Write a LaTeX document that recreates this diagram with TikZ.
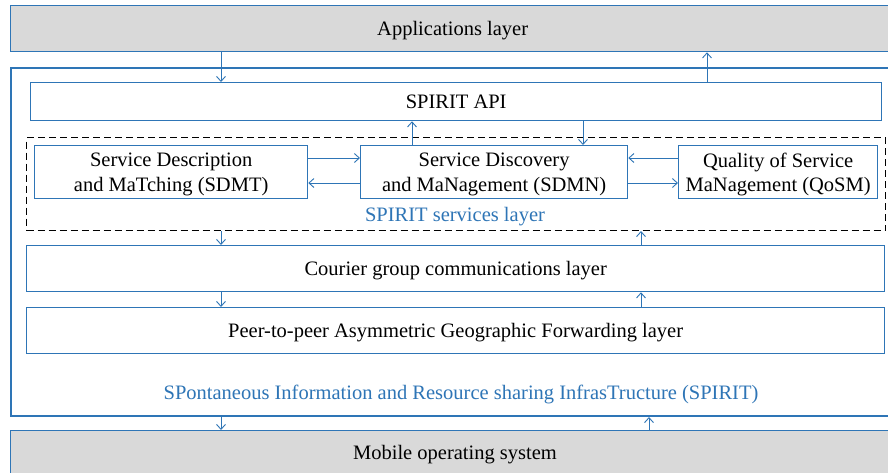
\documentclass[tikz,border=0pt]{standalone}
\usepackage{fontspec}
\setmainfont{Liberation Serif}
\usetikzlibrary{arrows.meta}
\definecolor{bblue}{RGB}{46,117,182}
\definecolor{lgray}{RGB}{217,217,217}
\tikzset{
  box/.style={draw=bblue, line width=1.3pt, fill=white, anchor=north west, inner sep=0pt, align=center, text depth=0pt, font=\fontsize{20.5}{24.5}\selectfont},
  graybox/.style={box, fill=lgray},
  arr/.style={draw=bblue, line width=0.9pt, -{Straight Barb[length=5pt,width=9pt,line width=0.9pt]}},
  bluelabel/.style={text=bblue, font=\fontsize{20.5}{24.5}\selectfont},
}
\begin{document}
\begin{tikzpicture}[x=1pt,y=-1pt]
\useasboundingbox (0,0) rectangle (888,472);
\clip (0,0) rectangle (888,472);
% outer layers
\node[graybox, minimum width=884pt, minimum height=46pt] (app) at (10,5) {Applications layer};
\node[box, line width=2pt, minimum width=884pt, minimum height=348pt] (spirit) at (10,67) {};
\node[graybox, minimum width=884pt, minimum height=50pt] (mos) at (10,430) {};
\node[font=\fontsize{20.5}{24.5}\selectfont] (mostext) at (455,455) {Mobile operating system};
% inner
\node[box, minimum width=851pt, minimum height=38pt] (api) at (30,82) {SPIRIT API};
\node[draw=black, dash pattern=on 7pt off 4pt, line width=1pt, anchor=north west, minimum width=859pt, minimum height=93pt, inner sep=0pt] (svc) at (26,137) {};
\node[box, minimum width=273pt, minimum height=53pt] (sdmt) at (34,145) {Service Description\\and MaTching (SDMT)};
\node[box, minimum width=267pt, minimum height=53pt] (sdmn) at (360,145) {Service Discovery\\and MaNagement (SDMN)};
\node[box, minimum width=199pt, minimum height=53pt] (qosm) at (678,145) {Quality of Service\\MaNagement (QoSM)};
\node[bluelabel] (svclabel) at (455,217) {SPIRIT services layer};
\node[box, minimum width=858pt, minimum height=46pt] (cour) at (26,245) {Courier group communications layer};
\node[box, minimum width=858pt, minimum height=46pt] (pagf) at (26,307) {Peer-to-peer Asymmetric Geographic Forwarding layer};
\node[bluelabel] (spiritlabel) at (461,394) {SPontaneous Information and Resource sharing InfrasTructure (SPIRIT)};
% columns / rows
\coordinate (c1) at (221,0);
\coordinate (c2) at (707,0);
\coordinate (c3) at (412,0);
\coordinate (c4) at (583,0);
\coordinate (c5) at (641,0);
\coordinate (c6) at (649,0);
\coordinate (r1) at (0,158);
\coordinate (r2) at (0,183);
% vertical arrows
\draw[arr] (c1 |- app.south) -- (c1 |- api.north);
\draw[arr] (c2 |- api.north) -- (c2 |- app.south);
\draw[arr] (c3 |- sdmn.north) -- (c3 |- api.south);
\draw[arr] (c4 |- api.south) -- (c4 |- sdmn.north);
\draw[arr] (c1 |- svc.south) -- (c1 |- cour.north);
\draw[arr] (c5 |- cour.north) -- (c5 |- svc.south);
\draw[arr] (c1 |- cour.south) -- (c1 |- pagf.north);
\draw[arr] (c5 |- pagf.north) -- (c5 |- cour.south);
\draw[arr] (c1 |- spirit.south) -- (c1 |- mos.north);
\draw[arr] (c6 |- mos.north) -- (c6 |- spirit.south);
% horizontal arrows
\draw[arr] (sdmt.east |- r1) -- (sdmn.west |- r1);
\draw[arr] (sdmn.west |- r2) -- (sdmt.east |- r2);
\draw[arr] (qosm.west |- r1) -- (sdmn.east |- r1);
\draw[arr] (sdmn.east |- r2) -- (qosm.west |- r2);
\end{tikzpicture}
\end{document}
